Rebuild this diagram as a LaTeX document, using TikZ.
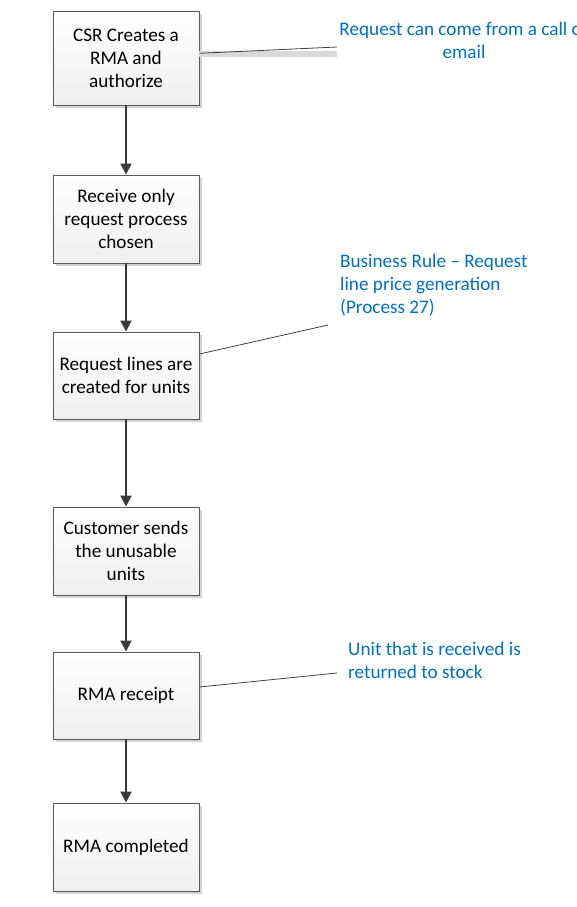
\documentclass[tikz,border=0pt]{standalone}
\usepackage{fontspec}
\setmainfont{Carlito}
\usetikzlibrary{arrows.meta,shadows}
\definecolor{boxborder}{HTML}{595959}
\definecolor{boxfill}{HTML}{EFEFEF}
\definecolor{arrowc}{HTML}{3A3A3A}
\definecolor{noteblue}{HTML}{0070C0}
\tikzset{
  stepbox/.style={draw=boxborder, line width=0.9pt, top color=white, bottom color=boxfill,
    minimum width=146pt, align=center, font=\fontsize{19.2}{23}\selectfont, inner sep=0pt,
    drop shadow={shadow xshift=3pt, shadow yshift=-3pt, fill=black!18, opacity=1}},
  flow/.style={draw=arrowc, line width=1.8pt, -{Triangle[length=11pt,width=11pt]}},
  note/.style={text=noteblue, font=\fontsize{19.2}{23}\selectfont, inner sep=0pt, anchor=north west, align=left},
  noteline/.style={draw=black!75, line width=0.8pt},
}
\begin{document}
\begin{tikzpicture}[x=1pt,y=-1pt]
\useasboundingbox (0,0) rectangle (576,907);
\clip (0,0) rectangle (576,907);
\node[stepbox, minimum height=94pt] (b1) at (126,58) {CSR Creates a\\RMA and\\authorize};
\node[stepbox, minimum height=88pt] (b2) at (126,219) {Receive only\\request process\\chosen};
\node[stepbox, minimum height=87pt] (b3) at (126,375.5) {Request lines are\\created for units};
\node[stepbox, minimum height=88pt] (b4) at (126,551) {Customer sends\\the unusable\\units};
\node[stepbox, minimum height=87pt] (b5) at (126,695.5) {RMA receipt};
\node[stepbox, minimum height=88pt] (b6) at (126,847) {RMA completed};
\draw[flow] (b1.south) -- (b2.north);
\draw[flow] (b2.south) -- (b3.north);
\draw[flow] (b3.south) -- (b4.north);
\draw[flow] (b4.south) -- (b5.north);
\draw[flow] (b5.south) -- (b6.north);
\node[text=noteblue, font=\fontsize{19.2}{23}\selectfont, inner sep=0pt, align=center, anchor=north] (n1) at (464,22) {Request can come from a call or\\email};
\node[note] (n2) at (340,254) {Business Rule -- Request\\line price generation\\(Process 27)};
\node[note] (n3) at (348,642) {Unit that is received is\\returned to stock};
\coordinate (e1) at (337,47);
\coordinate (e2) at (328,325);
\coordinate (e3) at (337,673);
\draw[black!15, line width=6pt] ([yshift=4.3pt]b1.east) -- ++(138,0);
\draw[noteline] ([yshift=4.7pt]b1.east) -- (e1);
\draw[noteline] ([yshift=21.5pt]b3.east) -- (e2);
\draw[noteline] ([yshift=8.5pt]b5.east) -- (e3);
\end{tikzpicture}
\end{document}
